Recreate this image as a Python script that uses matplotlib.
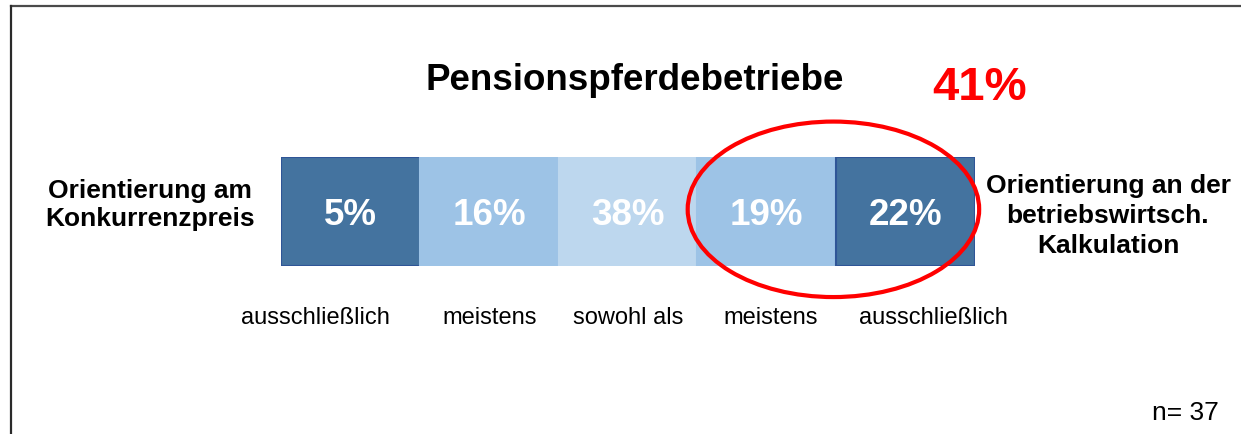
import matplotlib
matplotlib.use("Agg")
import matplotlib.pyplot as plt
from matplotlib.patches import Ellipse
from matplotlib.lines import Line2D
import numpy as np

plt.rcParams['font.family'] = ['Liberation Sans', 'DejaVu Sans']

title = "Pensionspferdebetriebe"
highlight = "41%"
categories = ["ausschließlich", "meistens", "sowohl als", "meistens", "ausschließlich"]
values = [5, 16, 38, 19, 22]
left_label = "Orientierung am\nKonkurrenzpreis"
right_label = "Orientierung an der\nbetriebswirtsch.\nKalkulation"
n_label = "n= 37"

W, H = 1241, 435
fig = plt.figure(figsize=(W / 100, H / 100), dpi=100)

def fx(px):
    return px / W

def fy(py):
    return 1 - py / H

# frame lines
fig.add_artist(Line2D([fx(11), 1.0], [fy(7), fy(7)], color='#4a4a4a', lw=1.6))
fig.add_artist(Line2D([fx(11), fx(11)], [fy(7), 0.0], color='#2a2a2a', lw=1.6))

# bar axes
x0, x1, ytop, ybot = 281, 975, 158, 267
ax = fig.add_axes([fx(x0), fy(ybot), fx(x1 - x0), (ybot - ytop) / H])
colors = ['#44739F', '#9DC3E6', '#BDD7EE', '#9DC3E6', '#44739F']
edges = ['#2F5597', '#9DC3E6', '#BDD7EE', '#9DC3E6', '#2F5597']
pos = np.arange(len(values)) + 0.5
ax.bar(pos, [1] * len(values), width=1, color=colors, edgecolor=edges, linewidth=1.5)
ax.set_xlim(0, len(values))
ax.set_ylim(0, 1)
ax.axis('off')
for p, v in zip(pos, values):
    ax.text(p, 0.47, f"{v}%", ha='center', va='center', color='white',
            fontsize=26.5, fontweight='bold')

# ellipse around the last two segments
ax.add_patch(Ellipse((3.98, 0.52), 2.10, 1.61, fill=False, edgecolor='#FF0000',
                     lw=3, clip_on=False))

# titles
fig.text(fx(635), fy(80), title, ha='center', va='center', fontsize=26.5,
         fontweight='bold', color='black')
fig.text(fx(980), fy(88), highlight, ha='center', va='center', fontsize=34,
         fontweight='bold', color='#FF0000')

# side labels
fig.text(fx(150), fy(205), left_label, ha='center', va='center', fontsize=19,
         fontweight='bold', linespacing=1.2)
fig.text(fx(1108), fy(216), right_label, ha='center', va='center', fontsize=19,
         fontweight='bold', linespacing=1.3)

# bottom category labels
offsets = [-0.25, 0.0, 0.0, 0.03, 0.2]
for p, c, o in zip(pos, categories, offsets):
    ax.text(p + o, -0.47, c, ha='center', va='center', fontsize=17,
            transform=ax.transData, clip_on=False)

fig.text(fx(1185), fy(413), n_label, ha='center', va='center', fontsize=19)

fig.savefig("out.png", dpi=100)
